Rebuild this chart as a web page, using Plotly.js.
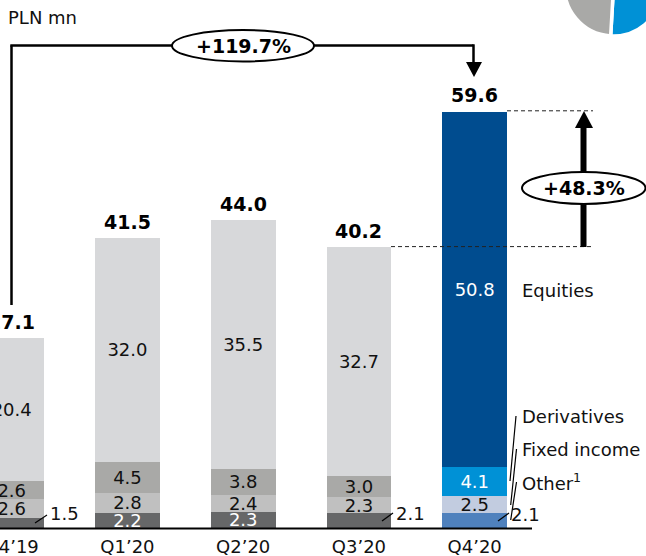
<!DOCTYPE html>
<html>
<head>
<meta charset="utf-8">
<script src="https://cdn.plot.ly/plotly-3.0.1.min.js"></script>
<style>
html, body { margin: 0; padding: 0; width: 646px; height: 556px; overflow: hidden; background: #fff; }
#chart { position: absolute; left: 0; top: -70px; width: 670px; height: 626px; }
</style>
</head>
<body>
<div id="chart"></div>
<script>
const quarters = ["Q4’19", "Q1’20", "Q2’20", "Q3’20", "Q4’20"];
const other = [1.5, 2.2, 2.3, 2.1, 2.1];
const fixedIncome = [2.6, 2.8, 2.4, 2.3, 2.5];
const derivatives = [2.6, 4.5, 3.8, 3.0, 4.1];
const equities = [20.4, 32.0, 35.5, 32.7, 50.8];
const totals = [27.1, 41.5, 44.0, 40.2, 59.6];
const otherInside = [false, true, true, false, false];
const pieShares = [48, 52];

const otherColors = ["#666768", "#666768", "#666768", "#666768", "#4F81BD"];
const fixedColors = ["#C0C0C0", "#C0C0C0", "#C0C0C0", "#C0C0C0", "#C2CCE0"];
const derivColors = ["#A9A9A7", "#A9A9A7", "#A9A9A7", "#A9A9A7", "#0091D6"];
const equityColors = ["#D7D8DA", "#D7D8DA", "#D7D8DA", "#D7D8DA", "#004C8F"];

const INK = "#111111";
const FONT = "'DejaVu Sans', Verdana, sans-serif";

// The figure is taller and wider than the window so the pie can run off its edges.
const FIG_W = 670, FIG_H = 626, TOP_OFFSET = 70, BOTTOM = 28, VIEW_W = 646;
const PLOT_H = FIG_H - BOTTOM;
const px = v => v / FIG_W;
const py = v => 1 - (v + TOP_OFFSET) / PLOT_H;

function stack(name, values, colors, text, textColors) {
  return {
    type: "bar", name, x: quarters, y: values,
    marker: { color: colors, line: { width: 0 } },
    text, textposition: "inside", insidetextanchor: "middle",
    constraintext: "none", textangle: 0,
    textfont: { family: FONT, size: 18, color: textColors },
    hoverinfo: "skip", showlegend: false, cliponaxis: false
  };
}
const fmt = v => v.toFixed(1);

const traces = [
  stack("Other", other, otherColors,
    other.map((v, i) => otherInside[i] ? fmt(v) : null), other.map(() => "#FFFFFF")),
  stack("Fixed income", fixedIncome, fixedColors, fixedIncome.map(fmt), fixedIncome.map(() => INK)),
  stack("Derivatives", derivatives, derivColors, derivatives.map(fmt),
    derivatives.map((v, i) => i === 4 ? "#FFFFFF" : INK)),
  stack("Equities", equities, equityColors, equities.map(fmt),
    equities.map((v, i) => i === 4 ? "#FFFFFF" : INK)),
  {
    type: "pie", values: pieShares, sort: false, direction: "clockwise", rotation: 10.5,
    marker: { colors: ["#0091D6", "#A9A9A7"], line: { color: "#FFFFFF", width: 3.5 } },
    textinfo: "none", hoverinfo: "skip", showlegend: false,
    domain: { x: [px(564.5), px(662.5)], y: [py(36), py(-62)] }
  }
];

const seg = (x0, y0, x1, y1, width, color, dash) => ({
  type: "line", xref: "paper", yref: "paper",
  x0: px(x0), y0: py(y0), x1: px(x1), y1: py(y1),
  line: { width, color: color || "#000", dash: dash || "solid" }
});
const levelLine = (x0, x1, value) => ({
  type: "line", xref: "paper", yref: "y",
  x0: px(x0), x1: px(x1), y0: value, y1: value,
  line: { width: 1, color: "#222", dash: "4px,3px" }
});
const triangle = pts => ({
  type: "path", xref: "paper", yref: "paper",
  path: "M " + pts.map(p => px(p[0]) + "," + py(p[1])).join(" L ") + " Z",
  fillcolor: "#000", line: { width: 0 }
});
const ellipse = (x0, y0, x1, y1) => ({
  type: "circle", xref: "paper", yref: "paper",
  x0: px(x0), y0: py(y0), x1: px(x1), y1: py(y1),
  fillcolor: "#FFFFFF", line: { width: 2, color: "#000" }
});

const shapes = [
  seg(0, 528.5, 532, 528.5, 2),
  // Growth bracket running from the first quarter to the last
  seg(11.5, 305, 11.5, 45.5, 2.5),
  seg(10.3, 45.5, 473.5, 45.5, 2.5),
  seg(473.5, 44.3, 473.5, 63, 2.5),
  triangle([[466, 62], [482, 62], [474, 77]]),
  ellipse(172, 30, 314, 61.5),
  // Quarter-on-quarter arrow between the two dashed levels
  levelLine(507, 593, totals[4]),
  levelLine(391, 593, totals[3]),
  seg(583.5, 247, 583.5, 127, 6),
  triangle([[575, 128], [593, 128], [584, 111]]),
  ellipse(522, 172, 645.5, 204),
  // Leader lines for small segments and the legend names
  seg(35, 523, 47, 515, 1.2),
  seg(382, 521, 393, 513, 1.2),
  seg(498, 521, 509, 513, 1.2),
  seg(516, 416, 510, 481, 1.2),
  seg(516.5, 449, 510.7, 505, 1.2),
  seg(516.5, 482, 510.7, 520, 1.2)
];

const note = (x, y, text, opts) => Object.assign({
  xref: "paper", yref: "paper", x: px(x), y: py(y), text,
  xanchor: "left", yanchor: "middle", showarrow: false, borderpad: 0,
  font: { family: FONT, size: 18, color: INK }
}, opts || {});
const bold = { family: FONT, size: 19, color: "#000", weight: "bold" };

// Bar totals sit just above each stack
const totalNotes = totals.map((v, i) => ({
  xref: "x", yref: "y", x: quarters[i], y: v, text: fmt(v),
  xanchor: "center", yanchor: "bottom", showarrow: false, borderpad: 0, yshift: 4,
  font: bold
}));

const annotations = totalNotes.concat([
  note(7, 17, "PLN mn"),
  note(243, 45.5, "+119.7%", { xanchor: "center", font: bold }),
  note(584, 188, "+48.3%", { xanchor: "center", font: bold }),
  note(521, 290, "Equities"),
  note(521, 416, "Derivatives"),
  note(521, 449, "Fixed income"),
  note(521, 482, "Other<sup>1</sup>"),
  note(510, 514, fmt(other[4])),
  note(395, 513, fmt(other[3])),
  note(49, 513, fmt(other[0]))
]);

const layout = {
  width: FIG_W, height: FIG_H,
  margin: { l: 0, r: 0, t: 0, b: BOTTOM, pad: 0 },
  paper_bgcolor: "#FFFFFF", plot_bgcolor: "#FFFFFF",
  barmode: "stack", bargap: 0.44,
  showlegend: false,
  xaxis: {
    type: "category", categoryorder: "array", categoryarray: quarters,
    domain: [0, VIEW_W / FIG_W], range: [-0.101, 5.48],
    showgrid: false, zeroline: false, showline: false, ticks: "", ticklabelstandoff: 6,
    tickfont: { family: FONT, size: 18, color: INK }, fixedrange: true
  },
  yaxis: {
    domain: [0, 528 / PLOT_H], range: [0, 528 / 7],
    visible: false, fixedrange: true
  },
  shapes, annotations
};

Plotly.newPlot("chart", traces, layout, { displayModeBar: false, staticPlot: true });
</script>
</body>
</html>
